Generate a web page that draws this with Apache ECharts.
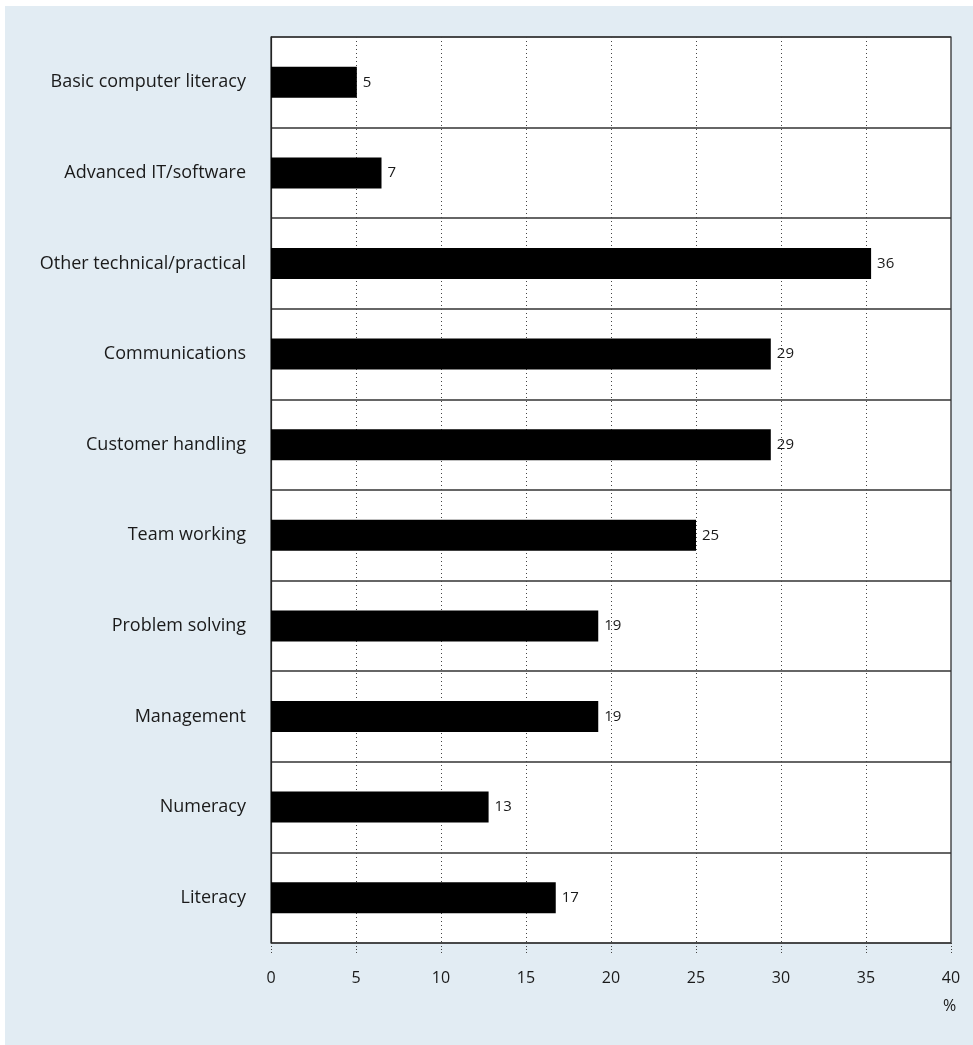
<!DOCTYPE html>
<html>
<head>
<meta charset="utf-8">
<script src="https://cdn.jsdelivr.net/npm/echarts@6/dist/echarts.min.js"></script>
<style>
  html, body { margin: 0; padding: 0; background: #ffffff; }
  #chart { width: 973px; height: 1045px; }
</style>
</head>
<body>
<div id="chart"></div>
<script>
// Categories, top to bottom
const categories = [
  'Basic computer literacy',
  'Advanced IT/software',
  'Other technical/practical',
  'Communications',
  'Customer handling',
  'Team working',
  'Problem solving',
  'Management',
  'Numeracy',
  'Literacy'
];
// Bar lengths (%)
const barValues = [5.05, 6.5, 35.3, 29.4, 29.4, 25.0, 19.25, 19.25, 12.8, 16.75];
// Printed value labels
const valueLabels = ['5', '7', '36', '29', '29', '25', '19', '19', '13', '17'];
// Axis
const xTicks = [0, 5, 10, 15, 20, 25, 30, 35, 40];
const axisUnit = '%';

const FONT = '"Open Sans", "Noto Sans", sans-serif';
const chart = echarts.init(document.getElementById('chart'), null, { renderer: 'canvas' });

const dotStyle = { color: '#444444', width: 1, type: [1, 3] };

const option = {
  backgroundColor: '#ffffff',
  animation: false,
  graphic: [
    {
      type: 'rect',
      left: 5, top: 6,
      shape: { width: 968, height: 1039 },
      style: { fill: '#e2ecf3' },
      z: -10
    },
    {
      type: 'text',
      left: 943, top: 998,
      style: { text: axisUnit, fill: '#1a1a1a', font: '16px ' + FONT },
      z: 10
    }
  ],
  grid: {
    left: 271, right: 22, top: 37, bottom: 102,
    show: true,
    backgroundColor: '#ffffff',
    borderColor: '#222222',
    borderWidth: 1.2,
    containLabel: false
  },
  xAxis: {
    type: 'value',
    min: xTicks[0],
    max: xTicks[xTicks.length - 1],
    interval: 5,
    axisLine: { show: false },
    axisTick: {
      show: true,
      length: 10,
      lineStyle: { color: '#444444', width: 1, type: [1, 2] }
    },
    axisLabel: {
      color: '#1a1a1a',
      fontFamily: FONT,
      fontSize: 16,
      margin: 27
    },
    splitLine: {
      show: true,
      showMinLine: false,
      showMaxLine: false,
      lineStyle: dotStyle
    }
  },
  yAxis: {
    type: 'category',
    data: categories,
    inverse: true,
    axisLine: { show: true, lineStyle: { color: '#222222', width: 1.2 } },
    axisTick: { show: false },
    axisLabel: {
      color: '#1a1a1a',
      fontFamily: FONT,
      fontSize: 18,
      margin: 25
    },
    splitLine: {
      show: true,
      lineStyle: { color: '#333333', width: 1.5 }
    }
  },
  series: [{
    type: 'bar',
    data: barValues,
    barWidth: 31,
    itemStyle: { color: '#000000' },
    label: {
      show: true,
      position: 'right',
      distance: 6,
      color: '#1a1a1a',
      fontFamily: FONT,
      fontSize: 15,
      formatter: function (p) { return valueLabels[p.dataIndex]; }
    }
  }]
};
chart.setOption(option);
</script>
</body>
</html>
